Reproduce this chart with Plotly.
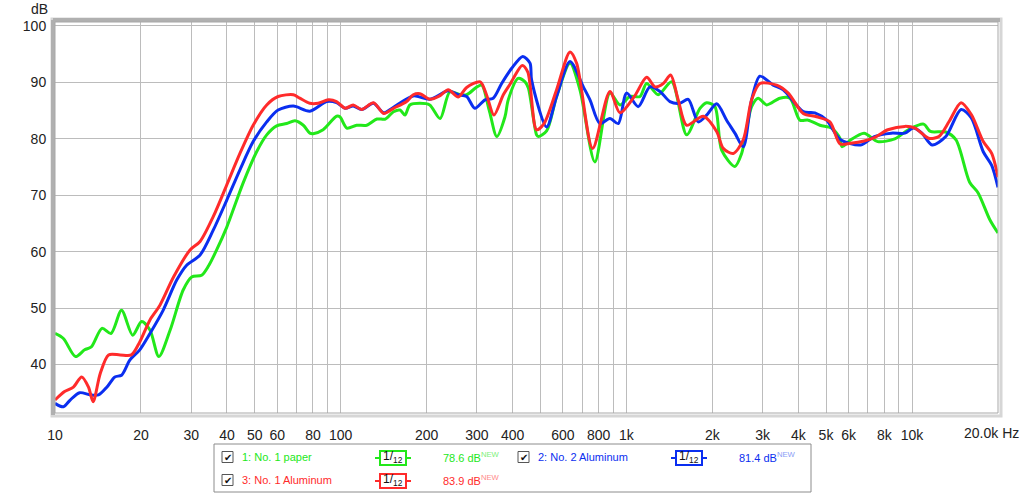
import plotly.graph_objects as go

# ---------------- data ----------------
paper_f = [10, 10.7, 11.8, 12.7, 13.4, 14.6, 15.7, 17.1, 18.7, 20.1, 21.5, 23.1, 25.3, 28.1, 30.1,
           32.6, 34.5, 36.8, 39.9, 45.5, 50.8, 55.1, 59.7, 64.7, 69.2, 74.0, 78.0, 80.1, 86.8, 96.7,
           99.4, 105.1, 113.7, 123.4, 134, 143.4, 153.1, 161.3, 167.8, 174.7, 189.4, 205, 223, 241,
           262, 276, 300, 312, 331, 352, 376, 386, 418, 442, 454, 485, 492, 526, 570, 635, 688, 776,
           876, 950, 1029, 1116, 1178, 1293, 1441, 1626, 1810, 1910, 2042, 2156, 2399, 2533, 2745,
           2895, 3098, 3448, 3738, 4051, 4331, 4760, 5231, 5593, 5689, 6092, 6798, 7585, 8700, 9705,
           10980, 11600, 13130, 14260, 15910, 17040, 18750, 20000]
paper_db = [45.5, 44.6, 41.4, 42.6, 43.1, 46.4, 45.5, 49.6, 45.2, 47.6, 46.1, 41.4, 46.1, 53.2, 55.5,
            55.8, 57.5, 60.3, 64.3, 72.1, 77.7, 80.7, 82.3, 82.7, 83.2, 82.4, 81.0, 80.9, 81.6, 84.0,
            83.9, 81.9, 82.4, 82.4, 83.5, 83.5, 84.8, 85.1, 84.2, 86.0, 86.3, 86.0, 83.6, 88.3,
            87.8, 87.8, 89.2, 89.5, 85.1, 80.4, 83.9, 86.9, 90.7, 90.1, 89.0, 80.7, 80.4, 81.4, 87.5,
            93.4, 88.7, 75.9, 88.1, 86.0, 87.5, 87.5, 89.8, 87.8, 90.1, 80.7, 85.4, 86.4, 85.7, 78.0,
            75.1, 77.4, 85.7, 87.2, 86.0, 87.2, 87.2, 83.3, 83.3, 82.4, 81.9, 80.1, 78.6, 79.8, 81.0,
            79.5, 80.0, 81.6, 82.6, 81.3, 81.2, 79.8, 72.3, 70.4, 65.6, 63.3]

alu2_f = [10, 10.7, 11.3, 12.2, 13.3, 14.2, 15.2, 16.2, 17.1, 18.3, 19.8, 21.5, 23.9, 26.7, 28.9,
          32.2, 35.8, 39.9, 44.4, 49.4, 55.1, 60.4, 68.3, 78.0, 89.3, 96.7, 103.7, 110.6, 118.5,
          130.3, 141.5, 153.1, 179.5, 205, 238, 258, 276, 295, 320, 342, 366, 397, 434, 460, 466,
          526, 570, 635, 707, 746, 808, 876, 937, 1002, 1101, 1209, 1311, 1421, 1540, 1647, 1785,
          1910, 2071, 2244, 2399, 2566, 2745, 2935, 3267, 3541, 4161, 4572, 5025, 5600, 6614, 7379,
          8463, 9443, 10113, 10830, 11760, 13130, 14850, 16130, 17760, 19010, 20000]
alu2_db = [33.1, 32.5, 33.7, 35.0, 34.6, 34.6, 36.0, 37.8, 38.1, 40.8, 42.6, 45.5, 49.6, 55.0, 57.6,
           59.4, 63.8, 69.1, 74.5, 79.5, 83.0, 85.1, 85.8, 84.9, 86.6, 86.4, 85.4, 85.8, 85.2,
           86.3, 84.6, 85.6, 87.6, 87.0, 88.5, 87.8, 87.5, 85.4, 86.9, 87.2, 89.8, 92.5, 94.6, 93.4, 90.4,
           82.1, 87.5, 93.7, 89.2, 86.9, 82.7, 83.6, 82.7, 88.1, 85.7, 89.2, 88.4, 86.6, 86.3, 87.0, 83.0,
           84.2, 86.2, 83.3, 81.0, 78.6, 86.9, 91.1, 89.5, 88.7, 84.8, 84.6, 83.3, 79.9, 78.9, 80.4,
           81.0, 81.0, 81.9, 81.0, 78.9, 80.4, 85.2, 83.7, 77.7, 75.3, 71.4]

alu1_f = [10, 10.8, 11.6, 12.4, 13.1, 13.6, 14.4, 15.4, 16.9, 18.5, 19.8, 21.5, 23.3, 26.0, 29.7,
          32.2, 35.8, 39.9, 44.4, 49.4, 55.1, 60.4, 68.3, 71.9, 78.0, 83.4, 90.6, 96.7, 103.7, 110.6,
          118.5, 130.3, 141.5, 153.1, 170.1, 179.5, 189.4, 205, 222, 238, 258, 276, 308, 324, 344,
          371, 393, 402, 432, 452, 485, 515, 570, 635, 670, 762, 876, 950, 1070, 1178, 1260, 1347,
          1429, 1519, 1626, 1859, 2071, 2184, 2367, 2566, 2745, 2935, 3358, 3687, 4161, 4636, 5159,
          5600, 6092, 6798, 7379, 8234, 9443, 10252, 11440, 12420, 13500, 14850, 16130, 17760,
          19010, 20000]
alu1_db = [33.7, 35.2, 36.0, 37.8, 36.0, 33.4, 38.4, 41.7, 41.7, 41.7, 44.0, 47.9, 50.5, 55.5, 60.3,
           61.8, 66.2, 71.8, 77.4, 82.4, 86.0, 87.5, 87.8, 87.2, 86.3, 86.3, 86.9, 86.6, 85.4, 86.0,
           85.2, 86.4, 84.5, 85.4, 86.6, 87.8, 88.0, 87.0, 87.6, 88.7, 87.4, 89.1, 90.1, 87.8, 84.2,
           87.8, 89.8, 90.7, 93.0, 91.8, 81.6, 82.7, 88.7, 95.4, 93.4, 78.3, 88.4, 84.6, 87.6, 90.9,
           89.2, 89.8, 91.3, 86.9, 82.4, 84.0, 81.3, 78.3, 77.4, 79.8, 86.9, 89.8, 89.5, 88.1, 84.5,
           83.9, 83.0, 79.1, 79.2, 79.6, 80.2, 81.6, 82.2, 81.9, 80.1, 80.4, 83.1, 86.4, 84.3, 79.5,
           77.4, 73.2]

series_names = ["1: No. 1 paper", "2: No. 2 Aluminum", "3: No. 1 Aluminum"]
series_levels = ["78.6 dB", "81.4 dB", "83.9 dB"]
series_colors = ["#22e81a", "#0a2ef0", "#ff2b2b"]
series_light = ["#7cf07a", "#8a9cf6", "#ff8a8a"]

grid_freqs = [10, 20, 30, 40, 50, 60, 70, 80, 90, 100, 200, 300, 400, 500, 600, 700, 800, 900,
              1000, 2000, 3000, 4000, 5000, 6000, 7000, 8000, 9000, 10000, 20000]
labeled = {10: "10", 20: "20", 30: "30", 40: "40", 50: "50", 60: "60", 80: "80", 100: "100",
           200: "200", 300: "300", 400: "400", 600: "600", 800: "800", 1000: "1k", 2000: "2k",
           3000: "3k", 4000: "4k", 5000: "5k", 6000: "6k", 8000: "8k", 10000: "10k"}
y_ticks = [40, 50, 60, 70, 80, 90, 100]

# ---------------- figure ----------------
W, H = 1024, 495
L, R, T, B = 55, 998, 22, 413  # plot area in page pixels


def px(x):
    return (x - L) / (R - L)


def py(y):
    return (B - y) / (B - T)


fig = go.Figure()
for f, d, c, n in [(paper_f, paper_db, series_colors[0], series_names[0]),
                   (alu2_f, alu2_db, series_colors[1], series_names[1]),
                   (alu1_f, alu1_db, series_colors[2], series_names[2])]:
    fig.add_trace(go.Scatter(x=f, y=d, mode="lines", name=n,
                             line=dict(color=c, width=3, shape="spline", smoothing=0.8),
                             showlegend=False, hoverinfo="skip"))

font_ax = dict(family="Liberation Sans, Arial, sans-serif", size=14, color="#222222")
fig.update_layout(
    width=W, height=H,
    margin=dict(l=L, r=W - R, t=T, b=H - B),
    paper_bgcolor="white", plot_bgcolor="white",
    showlegend=False,
    xaxis=dict(type="log", range=[1, 4.30103], tickvals=grid_freqs,
               ticktext=[labeled.get(v, "") for v in grid_freqs],
               showgrid=True, gridcolor="#bcbcbc", gridwidth=1, zeroline=False,
               ticks="outside", ticklen=9, tickcolor="rgba(0,0,0,0)", tickfont=font_ax,
               showline=False, fixedrange=True),
    yaxis=dict(range=[31.4, 100.7], tickvals=y_ticks, ticktext=[str(v) for v in y_ticks],
               showgrid=True, gridcolor="#bcbcbc", gridwidth=1, zeroline=False,
               ticks="outside", ticklen=5, tickcolor="rgba(0,0,0,0)", tickfont=font_ax,
               showline=False, fixedrange=True),
)

shapes = []
# plot frame with 3D-ish shadow
shapes.append(dict(type="rect", xref="paper", yref="paper", x0=px(L - 3), x1=px(R + 3),
                   y0=py(B + 3), y1=py(T - 3), line=dict(color="#d6d6d6", width=3)))
shapes.append(dict(type="line", xref="paper", yref="paper", x0=px(L - 2), x1=px(L - 2),
                   y0=py(B + 2), y1=py(T - 2), line=dict(color="#b0b0b0", width=4)))
shapes.append(dict(type="line", xref="paper", yref="paper", x0=px(L - 2), x1=px(R + 2),
                   y0=py(T - 2), y1=py(T - 2), line=dict(color="#b0b0b0", width=4)))
shapes.append(dict(type="rect", xref="paper", yref="paper", x0=0, x1=1, y0=0, y1=1,
                   line=dict(color="#a8a8a8", width=1)))

# legend box
shapes.append(dict(type="path", xref="paper", yref="paper",
                   path=("M {a},{b} L {c},{b} L {c},{d} L {a},{d} Z").format(
                       a=px(214), b=py(444), c=px(811), d=py(492)),
                   line=dict(color="#8c8c8c", width=1), fillcolor="white"))

annotations = []
annotations.append(dict(text="dB", x=px(50), y=py(9), xref="paper", yref="paper",
                        xanchor="right", yanchor="middle", showarrow=False, font=font_ax))
annotations.append(dict(text="20.0k Hz", x=px(1021), y=py(433), xref="paper", yref="paper",
                        xanchor="right", yanchor="middle", showarrow=False, font=font_ax))

entries = [(0, 222, 457), (1, 518, 457), (2, 222, 480)]
lf = dict(family="Liberation Sans, Arial, sans-serif", size=11)
for i, cx, cy in entries:
    col = series_colors[i]
    # checkbox
    shapes.append(dict(type="rect", xref="paper", yref="paper", x0=px(cx), x1=px(cx + 11),
                       y0=py(cy + 5.5), y1=py(cy - 5.5), line=dict(color="#555555", width=1),
                       fillcolor="white"))
    annotations.append(dict(text="✔", x=px(cx + 5.5), y=py(cy), xref="paper", yref="paper",
                            xanchor="center", yanchor="middle", showarrow=False,
                            font=dict(family="DejaVu Sans", size=10, color="#111111")))
    annotations.append(dict(text=series_names[i], x=px(cx + 18), y=py(cy), xref="paper",
                            yref="paper", xanchor="left", yanchor="middle", showarrow=False,
                            font=dict(lf, color=col)))
    ix = cx + 153
    shapes.append(dict(type="line", xref="paper", yref="paper", x0=px(ix), x1=px(ix + 36),
                       y0=py(cy + 1), y1=py(cy + 1), line=dict(color=col, width=2)))
    shapes.append(dict(type="rect", xref="paper", yref="paper", x0=px(ix + 5), x1=px(ix + 31),
                       y0=py(cy + 8), y1=py(cy - 6), line=dict(color=col, width=2),
                       fillcolor="white"))
    annotations.append(dict(text="1/<sub>12</sub>", x=px(ix + 18), y=py(cy), xref="paper",
                            yref="paper", xanchor="center", yanchor="middle", showarrow=False,
                            font=dict(family="Liberation Sans, Arial", size=12, color="#111111")))
    annotations.append(dict(text=series_levels[i] + "<sup><span style='color:%s'>NEW</span></sup>"
                            % series_light[i], x=px(cx + 219), y=py(cy), xref="paper",
                            yref="paper", xanchor="left", yanchor="middle", showarrow=False,
                            font=dict(lf, color=col)))

fig.update_layout(shapes=shapes, annotations=annotations)
# remove the browser's default 8px body margin so the figure sits at the page origin
fig.write_html("out.html", config={"displayModeBar": False, "staticPlot": True},
               post_script="document.body.style.margin='0';document.body.style.overflow='hidden';")
